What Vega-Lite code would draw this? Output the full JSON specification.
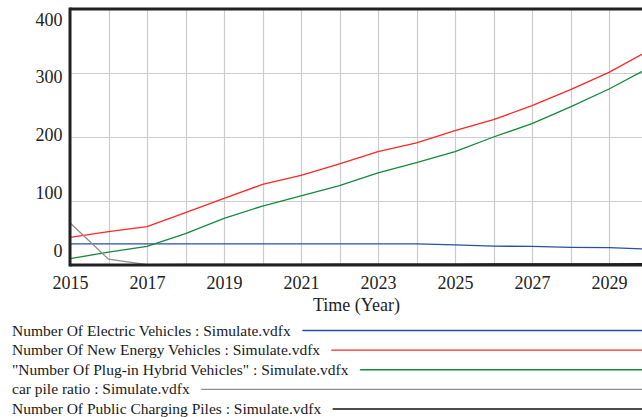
{
  "$schema": "https://vega.github.io/schema/vega-lite/v6.json",
  "background": "white",
  "padding": {"left": 0, "top": 6, "right": 0, "bottom": 0},
  "spacing": 8,
  "config": {"view": {"stroke": null}, "font": "Liberation Serif"},
  "datasets": {
    "series": [
      {"year": 2015, "series": "Number Of Electric Vehicles", "value": 33},
      {"year": 2016, "series": "Number Of Electric Vehicles", "value": 33},
      {"year": 2017, "series": "Number Of Electric Vehicles", "value": 33},
      {"year": 2018, "series": "Number Of Electric Vehicles", "value": 33},
      {"year": 2019, "series": "Number Of Electric Vehicles", "value": 33},
      {"year": 2020, "series": "Number Of Electric Vehicles", "value": 33},
      {"year": 2021, "series": "Number Of Electric Vehicles", "value": 33},
      {"year": 2022, "series": "Number Of Electric Vehicles", "value": 33},
      {"year": 2023, "series": "Number Of Electric Vehicles", "value": 33},
      {"year": 2024, "series": "Number Of Electric Vehicles", "value": 33},
      {"year": 2025, "series": "Number Of Electric Vehicles", "value": 31.5},
      {"year": 2026, "series": "Number Of Electric Vehicles", "value": 29.5},
      {"year": 2027, "series": "Number Of Electric Vehicles", "value": 29},
      {"year": 2028, "series": "Number Of Electric Vehicles", "value": 27.5},
      {"year": 2029, "series": "Number Of Electric Vehicles", "value": 27},
      {"year": 2030, "series": "Number Of Electric Vehicles", "value": 25},
      {"year": 2015, "series": "Number Of New Energy Vehicles", "value": 43},
      {"year": 2016, "series": "Number Of New Energy Vehicles", "value": 52},
      {"year": 2017, "series": "Number Of New Energy Vehicles", "value": 60},
      {"year": 2018, "series": "Number Of New Energy Vehicles", "value": 82},
      {"year": 2019, "series": "Number Of New Energy Vehicles", "value": 104},
      {"year": 2020, "series": "Number Of New Energy Vehicles", "value": 126},
      {"year": 2021, "series": "Number Of New Energy Vehicles", "value": 140},
      {"year": 2022, "series": "Number Of New Energy Vehicles", "value": 158},
      {"year": 2023, "series": "Number Of New Energy Vehicles", "value": 177},
      {"year": 2024, "series": "Number Of New Energy Vehicles", "value": 191},
      {"year": 2025, "series": "Number Of New Energy Vehicles", "value": 210},
      {"year": 2026, "series": "Number Of New Energy Vehicles", "value": 227},
      {"year": 2027, "series": "Number Of New Energy Vehicles", "value": 249},
      {"year": 2028, "series": "Number Of New Energy Vehicles", "value": 274},
      {"year": 2029, "series": "Number Of New Energy Vehicles", "value": 301},
      {"year": 2030, "series": "Number Of New Energy Vehicles", "value": 334},
      {"year": 2015, "series": "Number Of Plug-in Hybrid Vehicles", "value": 10},
      {"year": 2016, "series": "Number Of Plug-in Hybrid Vehicles", "value": 20},
      {"year": 2017, "series": "Number Of Plug-in Hybrid Vehicles", "value": 29},
      {"year": 2018, "series": "Number Of Plug-in Hybrid Vehicles", "value": 49},
      {"year": 2019, "series": "Number Of Plug-in Hybrid Vehicles", "value": 73},
      {"year": 2020, "series": "Number Of Plug-in Hybrid Vehicles", "value": 92},
      {"year": 2021, "series": "Number Of Plug-in Hybrid Vehicles", "value": 108},
      {"year": 2022, "series": "Number Of Plug-in Hybrid Vehicles", "value": 124},
      {"year": 2023, "series": "Number Of Plug-in Hybrid Vehicles", "value": 144},
      {"year": 2024, "series": "Number Of Plug-in Hybrid Vehicles", "value": 160},
      {"year": 2025, "series": "Number Of Plug-in Hybrid Vehicles", "value": 177},
      {"year": 2026, "series": "Number Of Plug-in Hybrid Vehicles", "value": 200},
      {"year": 2027, "series": "Number Of Plug-in Hybrid Vehicles", "value": 221},
      {"year": 2028, "series": "Number Of Plug-in Hybrid Vehicles", "value": 247},
      {"year": 2029, "series": "Number Of Plug-in Hybrid Vehicles", "value": 275},
      {"year": 2030, "series": "Number Of Plug-in Hybrid Vehicles", "value": 307},
      {"year": 2015, "series": "car pile ratio", "value": 66},
      {"year": 2016, "series": "car pile ratio", "value": 9},
      {"year": 2017, "series": "car pile ratio", "value": 0.6},
      {"year": 2018, "series": "car pile ratio", "value": 0.4},
      {"year": 2019, "series": "car pile ratio", "value": 0.3},
      {"year": 2020, "series": "car pile ratio", "value": 0.3},
      {"year": 2021, "series": "car pile ratio", "value": 0.2},
      {"year": 2022, "series": "car pile ratio", "value": 0.2},
      {"year": 2023, "series": "car pile ratio", "value": 0.2},
      {"year": 2024, "series": "car pile ratio", "value": 0.2},
      {"year": 2025, "series": "car pile ratio", "value": 0.2},
      {"year": 2026, "series": "car pile ratio", "value": 0.1},
      {"year": 2027, "series": "car pile ratio", "value": 0.1},
      {"year": 2028, "series": "car pile ratio", "value": 0.1},
      {"year": 2029, "series": "car pile ratio", "value": 0.1},
      {"year": 2030, "series": "car pile ratio", "value": 0.1},
      {"year": 2015, "series": "Number Of Public Charging Piles", "value": 0.5},
      {"year": 2016, "series": "Number Of Public Charging Piles", "value": 0.6},
      {"year": 2017, "series": "Number Of Public Charging Piles", "value": 0.7},
      {"year": 2018, "series": "Number Of Public Charging Piles", "value": 0.8},
      {"year": 2019, "series": "Number Of Public Charging Piles", "value": 0.9},
      {"year": 2020, "series": "Number Of Public Charging Piles", "value": 1.0},
      {"year": 2021, "series": "Number Of Public Charging Piles", "value": 1.1},
      {"year": 2022, "series": "Number Of Public Charging Piles", "value": 1.2},
      {"year": 2023, "series": "Number Of Public Charging Piles", "value": 1.3},
      {"year": 2024, "series": "Number Of Public Charging Piles", "value": 1.4},
      {"year": 2025, "series": "Number Of Public Charging Piles", "value": 1.5},
      {"year": 2026, "series": "Number Of Public Charging Piles", "value": 1.6},
      {"year": 2027, "series": "Number Of Public Charging Piles", "value": 1.7},
      {"year": 2028, "series": "Number Of Public Charging Piles", "value": 1.8},
      {"year": 2029, "series": "Number Of Public Charging Piles", "value": 1.9},
      {"year": 2030, "series": "Number Of Public Charging Piles", "value": 2.0}
    ],
    "legend": [
      {"series": "Number Of Electric Vehicles", "label": "Number Of Electric Vehicles : Simulate.vdfx"},
      {"series": "Number Of New Energy Vehicles", "label": "Number Of New Energy Vehicles : Simulate.vdfx"},
      {"series": "Number Of Plug-in Hybrid Vehicles", "label": "\"Number Of Plug-in Hybrid Vehicles\" : Simulate.vdfx"},
      {"series": "car pile ratio", "label": "car pile ratio : Simulate.vdfx"},
      {"series": "Number Of Public Charging Piles", "label": "Number Of Public Charging Piles : Simulate.vdfx"}
    ]
  },
  "vconcat": [
    {
      "width": 572,
      "height": 256,
      "layer": [
        {
          "data": {"name": "series"},
          "mark": {"type": "line", "clip": true, "strokeWidth": 1.3},
          "encoding": {
            "x": {
              "field": "year", "type": "quantitative",
              "scale": {"domain": [2015, 2029.857], "nice": false, "zero": false},
              "axis": {
                "values": [2015, 2016, 2017, 2018, 2019, 2020, 2021, 2022, 2023, 2024, 2025, 2026, 2027, 2028, 2029],
                "format": "d",
                "labelExpr": "datum.value % 2 == 1 ? datum.label : ''",
                "title": "Time (Year)",
                "domain": false, "ticks": false, "tickSize": 0,
                "labelFontSize": 18, "labelColor": "#222222", "labelPadding": 9, "labelFlush": false,
                "titleFontSize": 18, "titleFontWeight": "normal", "titleColor": "#222222", "titlePadding": 4,
                "gridColor": "#cccccc", "gridWidth": 1.2
              }
            },
            "y": {
              "field": "value", "type": "quantitative",
              "scale": {"domain": [0, 400], "nice": false},
              "axis": {
                "values": [0, 100, 200, 300, 400],
                "title": null,
                "domain": false, "ticks": false, "tickSize": 0,
                "labelFontSize": 18, "labelColor": "#222222", "labelPadding": 8, "labelFlush": false,
                "labelOffset": {"expr": "-14 + 0.0625 * datum.value"},
                "minExtent": 70,
                "gridColor": "#cccccc", "gridWidth": 1.2
              }
            },
            "color": {
              "field": "series", "type": "nominal",
              "scale": {
                "domain": ["Number Of Electric Vehicles", "Number Of New Energy Vehicles", "Number Of Plug-in Hybrid Vehicles", "car pile ratio", "Number Of Public Charging Piles"],
                "range": ["#2a4fa8", "#ff2626", "#16883e", "#8f8f8f", "#111111"]
              },
              "legend": null
            }
          }
        },
        {
          "data": {"values": [{}]},
          "mark": {"type": "rule", "color": "#222222", "strokeWidth": 3},
          "encoding": {"y": {"datum": 0}}
        },
        {
          "data": {"values": [{}]},
          "mark": {"type": "rule", "color": "#222222", "strokeWidth": 3},
          "encoding": {"y": {"datum": 400}}
        },
        {
          "data": {"values": [{}]},
          "mark": {"type": "rule", "color": "#222222", "strokeWidth": 3, "strokeCap": "square"},
          "encoding": {"x": {"datum": 2015}}
        }
      ]
    },
    {
      "width": 572,
      "height": 95,
      "data": {"name": "legend"},
      "encoding": {
        "y": {
          "field": "series", "type": "nominal",
          "sort": ["Number Of Electric Vehicles", "Number Of New Energy Vehicles", "Number Of Plug-in Hybrid Vehicles", "car pile ratio", "Number Of Public Charging Piles"],
          "scale": {"type": "point", "padding": 0, "range": [8.5, 87]},
          "axis": null
        }
      },
      "layer": [
        {
          "mark": {"type": "rule", "strokeWidth": 1.3},
          "encoding": {
            "x": {"datum": -58, "type": "quantitative", "scale": {"domain": [0, 572], "nice": false, "zero": false}, "axis": null},
            "x2": {"datum": 572},
            "color": {"field": "series", "type": "nominal", "legend": null}
          }
        },
        {
          "mark": {"type": "text", "align": "left", "baseline": "middle", "fontSize": 15.5, "fill": "white", "stroke": "white", "strokeWidth": 24, "strokeJoin": "round"},
          "encoding": {"x": {"datum": -58, "type": "quantitative"}, "text": {"field": "label"}}
        },
        {
          "mark": {"type": "text", "align": "left", "baseline": "middle", "fontSize": 15.5, "color": "#1a1a1a"},
          "encoding": {"x": {"datum": -58, "type": "quantitative"}, "text": {"field": "label"}}
        }
      ]
    }
  ]
}
